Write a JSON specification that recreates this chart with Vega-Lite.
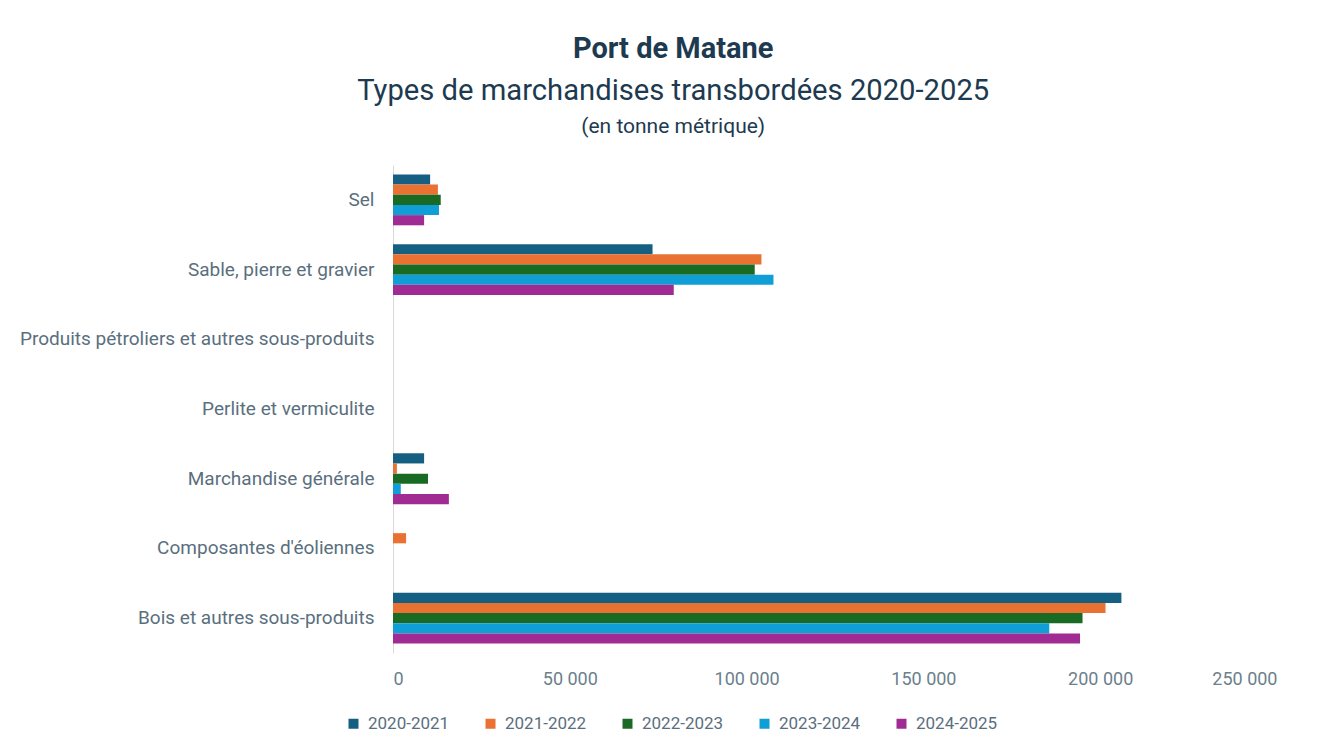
{
  "$schema": "https://vega.github.io/schema/vega-lite/v6.json",
  "background": "white",
  "padding": {"left": 19, "top": 34, "right": 20, "bottom": 8},
  "config": {
    "font": "Roboto",
    "view": {"stroke": null},
    "locale": {"number": {"decimal": ",", "thousands": " ", "grouping": [3], "currency": ["", ""]}}
  },
  "title": {
    "text": "Port de Matane",
    "subtitle": "Types de marchandises transbordées 2020-2025",
    "fontSize": 29,
    "fontWeight": "bold",
    "subtitleFontSize": 29.2,
    "color": "#1d3a50",
    "subtitleColor": "#1d3a50",
    "anchor": "middle",
    "frame": "bounds",
    "subtitlePadding": 13,
    "offset": 10,
    "dx": 25
  },
  "vconcat": [
    {
      "title": {
        "text": "(en tonne métrique)",
        "fontSize": 21,
        "fontWeight": "normal",
        "color": "#1d3a50",
        "anchor": "middle",
        "frame": "bounds",
        "offset": 28,
        "dx": 25
      },
      "width": 884,
      "height": 488,
      "data": {
        "values": [
          {"categorie": "Sel", "annee": "2020-2021", "tonnes": 10500},
          {"categorie": "Sel", "annee": "2021-2022", "tonnes": 12700},
          {"categorie": "Sel", "annee": "2022-2023", "tonnes": 13500},
          {"categorie": "Sel", "annee": "2023-2024", "tonnes": 13000},
          {"categorie": "Sel", "annee": "2024-2025", "tonnes": 8800},
          {"categorie": "Sable, pierre et gravier", "annee": "2020-2021", "tonnes": 73400},
          {"categorie": "Sable, pierre et gravier", "annee": "2021-2022", "tonnes": 104200},
          {"categorie": "Sable, pierre et gravier", "annee": "2022-2023", "tonnes": 102300},
          {"categorie": "Sable, pierre et gravier", "annee": "2023-2024", "tonnes": 107600},
          {"categorie": "Sable, pierre et gravier", "annee": "2024-2025", "tonnes": 79400},
          {"categorie": "Produits pétroliers et autres sous-produits", "annee": "2020-2021", "tonnes": 0},
          {"categorie": "Produits pétroliers et autres sous-produits", "annee": "2021-2022", "tonnes": 0},
          {"categorie": "Produits pétroliers et autres sous-produits", "annee": "2022-2023", "tonnes": 0},
          {"categorie": "Produits pétroliers et autres sous-produits", "annee": "2023-2024", "tonnes": 0},
          {"categorie": "Produits pétroliers et autres sous-produits", "annee": "2024-2025", "tonnes": 0},
          {"categorie": "Perlite et vermiculite", "annee": "2020-2021", "tonnes": 0},
          {"categorie": "Perlite et vermiculite", "annee": "2021-2022", "tonnes": 0},
          {"categorie": "Perlite et vermiculite", "annee": "2022-2023", "tonnes": 0},
          {"categorie": "Perlite et vermiculite", "annee": "2023-2024", "tonnes": 0},
          {"categorie": "Perlite et vermiculite", "annee": "2024-2025", "tonnes": 0},
          {"categorie": "Marchandise générale", "annee": "2020-2021", "tonnes": 8800},
          {"categorie": "Marchandise générale", "annee": "2021-2022", "tonnes": 1100},
          {"categorie": "Marchandise générale", "annee": "2022-2023", "tonnes": 9900},
          {"categorie": "Marchandise générale", "annee": "2023-2024", "tonnes": 2200},
          {"categorie": "Marchandise générale", "annee": "2024-2025", "tonnes": 15800},
          {"categorie": "Composantes d'éoliennes", "annee": "2020-2021", "tonnes": 0},
          {"categorie": "Composantes d'éoliennes", "annee": "2021-2022", "tonnes": 3700},
          {"categorie": "Composantes d'éoliennes", "annee": "2022-2023", "tonnes": 0},
          {"categorie": "Composantes d'éoliennes", "annee": "2023-2024", "tonnes": 0},
          {"categorie": "Composantes d'éoliennes", "annee": "2024-2025", "tonnes": 0},
          {"categorie": "Bois et autres sous-produits", "annee": "2020-2021", "tonnes": 206000},
          {"categorie": "Bois et autres sous-produits", "annee": "2021-2022", "tonnes": 201500},
          {"categorie": "Bois et autres sous-produits", "annee": "2022-2023", "tonnes": 195000},
          {"categorie": "Bois et autres sous-produits", "annee": "2023-2024", "tonnes": 185600},
          {"categorie": "Bois et autres sous-produits", "annee": "2024-2025", "tonnes": 194300}
        ]
      },
      "mark": {"type": "bar"},
      "encoding": {
        "y": {
          "field": "categorie",
          "type": "nominal",
          "sort": ["Sel", "Sable, pierre et gravier", "Produits pétroliers et autres sous-produits", "Perlite et vermiculite", "Marchandise générale", "Composantes d'éoliennes", "Bois et autres sous-produits"],
          "title": null,
          "scale": {"paddingInner": 0.27, "paddingOuter": 0.135},
          "axis": {
            "domainColor": "#d9d9d9",
            "domainWidth": 1,
            "ticks": false,
            "labelFontSize": 19,
            "labelColor": "#5a6f7e",
            "labelPadding": 19,
            "labelLimit": 500
          }
        },
        "yOffset": {
          "field": "annee",
          "type": "nominal",
          "sort": ["2020-2021", "2021-2022", "2022-2023", "2023-2024", "2024-2025"],
          "scale": {"paddingInner": 0}
        },
        "x": {
          "field": "tonnes",
          "type": "quantitative",
          "scale": {"domain": [0, 250000]},
          "axis": {
            "values": [0, 50000, 100000, 150000, 200000, 250000],
            "format": ",d",
            "grid": false,
            "domain": false,
            "ticks": false,
            "labelFontSize": 18,
            "labelColor": "#6b7f8c",
            "labelPadding": 17,
            "title": null
          }
        },
        "color": {
          "field": "annee",
          "type": "nominal",
          "scale": {
            "domain": ["2020-2021", "2021-2022", "2022-2023", "2023-2024", "2024-2025"],
            "range": ["#156082", "#e97132", "#196b24", "#0f9ed5", "#a02b93"]
          },
          "legend": {
            "title": null,
            "orient": "none",
            "direction": "horizontal",
            "legendX": -48,
            "legendY": 550,
            "symbolType": "square",
            "symbolSize": 100,
            "symbolStrokeWidth": 0,
            "labelFontSize": 17,
            "labelColor": "#5a6f7e",
            "columnPadding": 32,
            "labelOffset": 6
          }
        }
      }
    }
  ]
}
